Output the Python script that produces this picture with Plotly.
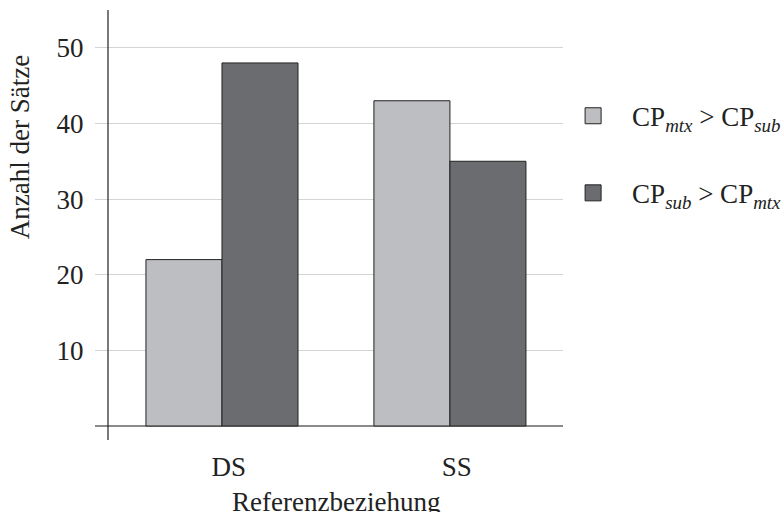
import plotly.graph_objects as go

categories = ["DS", "SS"]
series_names = ["CP<sub><i>mtx</i></sub> > CP<sub><i>sub</i></sub>",
                "CP<sub><i>sub</i></sub> > CP<sub><i>mtx</i></sub>"]
series_values = [[22, 43], [48, 35]]
series_colors = ["#bdbec2", "#6b6c70"]
y_ticks = [10, 20, 30, 40, 50]

xpos = list(range(len(categories)))
FONT = "Liberation Serif, Times New Roman, serif"
FS = 27

fig = go.Figure()
for i, (name, vals, col) in enumerate(zip(series_names, series_values, series_colors)):
    fig.add_trace(go.Bar(
        x=xpos, y=vals, name=name, legendgroup=str(i), showlegend=False,
        marker=dict(color=col, line=dict(color="#222222", width=1)),
    ))
    # legend entry with a larger square swatch
    fig.add_trace(go.Scatter(
        x=[None], y=[None], mode="markers", name=name, legendgroup=str(i),
        marker=dict(symbol="square", size=16, color=col,
                    line=dict(color="#222222", width=1)),
    ))

fig.update_layout(
    width=783, height=512,
    margin=dict(l=95, r=220, t=10, b=72, autoexpand=False),
    paper_bgcolor="white", plot_bgcolor="white",
    barmode="group", bargap=0.333, bargroupgap=0,
    font=dict(family=FONT, size=FS, color="#222222"),
    showlegend=True,
    legend=dict(x=0.981, xanchor="left", y=0.81, yanchor="top",
                itemwidth=68, itemsizing="trace", tracegroupgap=39,
                font=dict(size=FS), bgcolor="rgba(0,0,0,0)"),
    xaxis=dict(range=[-0.557, 1.496], tickvals=[0.03, 1.03], ticktext=categories,
               showgrid=False, zeroline=False, showline=False,
               ticks="outside", ticklen=3, tickcolor="rgba(0,0,0,0)",
               tickfont=dict(size=FS)),
    yaxis=dict(range=[-1.85, 55], tickvals=y_ticks, showgrid=True,
               gridcolor="#d4d4d4", gridwidth=1, zeroline=True,
               zerolinecolor="#8a8a8a", zerolinewidth=1.5, showline=False,
               ticks="outside", ticklen=5, tickcolor="rgba(0,0,0,0)",
               tickfont=dict(size=FS)),
)

# y axis line
fig.add_shape(type="line", xref="x", yref="paper", x0=-0.5, x1=-0.5, y0=0, y1=1,
              line=dict(color="#222222", width=1.2))

fig.add_annotation(text="Anzahl der Sätze", xref="paper", yref="paper",
                   x=-0.16, y=0.681, textangle=-90, showarrow=False,
                   xanchor="center", yanchor="middle", font=dict(size=FS))
fig.add_annotation(text="Referenzbeziehung", xref="x", yref="paper",
                   x=0.5, y=-0.145, showarrow=False, xanchor="center",
                   yanchor="middle", font=dict(size=FS))

fig.write_html("out.html", config={"displayModeBar": False},
               post_script="document.body.style.margin='0';")
